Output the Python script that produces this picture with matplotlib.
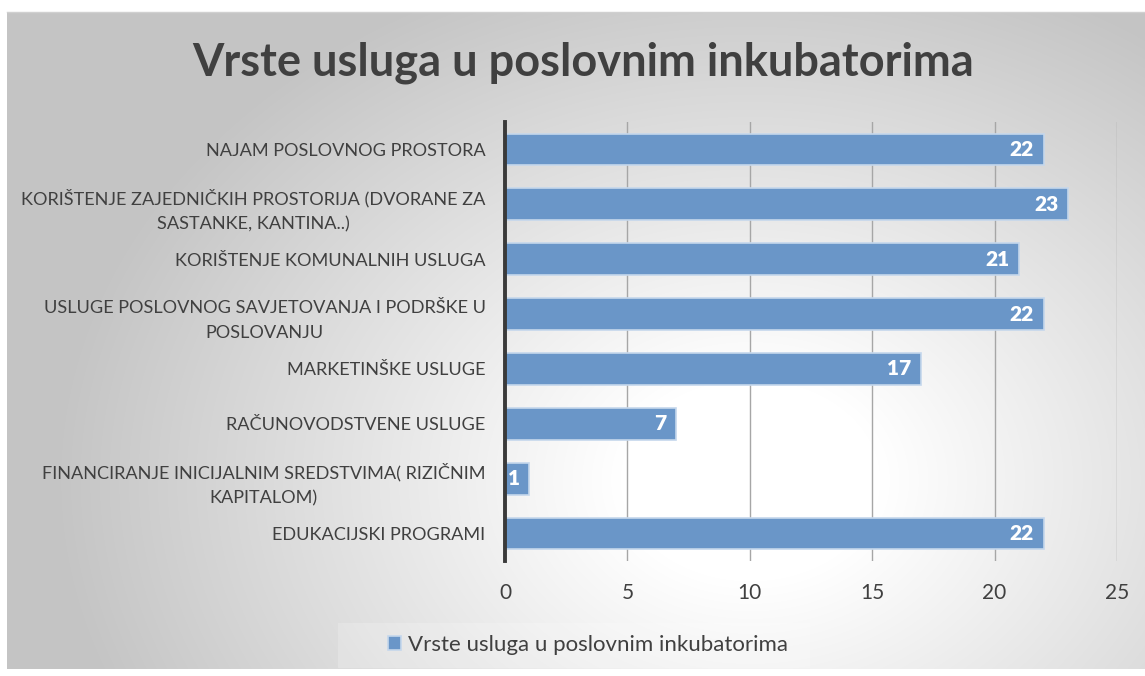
import numpy as np
import matplotlib.pyplot as plt
from matplotlib.patches import Rectangle

categories = [
    "NAJAM POSLOVNOG PROSTORA",
    "KORIŠTENJE ZAJEDNIČKIH PROSTORIJA (DVORANE ZA\nSASTANKE, KANTINA..)",
    "KORIŠTENJE KOMUNALNIH USLUGA",
    "USLUGE POSLOVNOG SAVJETOVANJA I PODRŠKE U\nPOSLOVANJU",
    "MARKETINŠKE USLUGE",
    "RAČUNOVODSTVENE USLUGE",
    "FINANCIRANJE INICIJALNIM SREDSTVIMA( RIZIČNIM\nKAPITALOM)",
    "EDUKACIJSKI PROGRAMI",
]
values = [22, 23, 21, 22, 17, 7, 1, 22]
series_name = "Vrste usluga u poslovnim inkubatorima"
title = "Vrste usluga u poslovnim inkubatorima"
xticks = [0, 5, 10, 15, 20, 25]

plt.rcParams['font.family'] = ['Lato', 'DejaVu Sans']

W, H = 1145, 676
fig = plt.figure(figsize=(W / 100, H / 100), dpi=100)
fig.patch.set_facecolor('white')

# radial gradient background of the chart area
bg = fig.add_axes([0, 0, 1, 1], zorder=0)
yy, xx = np.mgrid[0:H, 0:W]
r = np.sqrt(((xx - 750) / 720.0) ** 2 + ((yy - 480) / 560.0) ** 2)
g = np.clip(1.0 - 0.24 * np.clip(r - 0.18, 0, None) / 0.82, 0.77, 1.0)
img = np.dstack([g, g, g])
img[:12, :] = 1.0
img[669:, :] = 1.0
img[:, :7] = 1.0
bg.imshow(img, extent=[0, W, H, 0], aspect='auto')
bg.plot([7, W], [12, 12], color='#d0d0d0', lw=1)
bg.add_patch(Rectangle((338, 623), 472, 45, facecolor='white', alpha=0.2, edgecolor='none'))
bg.set_xlim(0, W)
bg.set_ylim(H, 0)
bg.axis('off')

ax = fig.add_axes([505 / W, 1 - 561 / H, (1117 - 505) / W, (561 - 122) / H], zorder=1)
ax.patch.set_alpha(0)
y = np.arange(len(categories))
bars = ax.barh(y, values, height=0.58, color='#6a96c8', edgecolor='#c5d7ec', linewidth=1.2, zorder=3)
ax.set_ylim(len(categories) - 0.5, -0.5)
ax.set_xlim(0, 25)
ax.set_xticks(xticks)
ax.set_yticks(y)
ax.set_yticklabels(categories, fontsize=13.1, color='#404040', multialignment='center')
for lab in ax.get_yticklabels():
    lab.set_linespacing(1.7)
ax.tick_params(axis='x', length=0, pad=16, labelsize=15, labelcolor='#404040')
ax.tick_params(axis='y', length=0, pad=14)
ax.grid(axis='x', color='#a6a6a6', lw=1, zorder=1)
for s in ['top', 'right', 'bottom']:
    ax.spines[s].set_visible(False)
ax.spines['left'].set_color('#3a3a3a')
ax.spines['left'].set_linewidth(2.8)
ax.spines['left'].set_zorder(4)

for b, v in zip(bars, values):
    ax.text(b.get_width() - 0.4, b.get_y() + b.get_height() / 2, str(v),
            ha='right', va='center', color='white', fontsize=15, fontweight='heavy', zorder=5)

fig.text(583 / W, 1 - 63 / H, title, ha='center', va='center', fontsize=32.5,
         fontweight='bold', color='#404040')

ax.legend([bars[0]], [series_name], loc='center', bbox_to_anchor=(588 / W, 1 - 645 / H),
          bbox_transform=fig.transFigure, frameon=False, fontsize=16,
          handlelength=0.6, handleheight=0.6, handletextpad=0.3, labelcolor='#404040')

fig.savefig('out.png', dpi=100)
